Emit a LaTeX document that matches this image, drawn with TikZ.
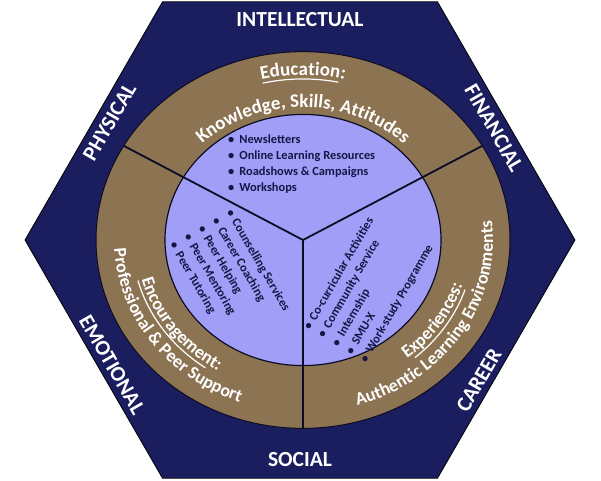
\documentclass[tikz,border=0pt]{standalone}
\usepackage{fontspec}
\setmainfont{Carlito}
\usetikzlibrary{decorations.text,calc}

\definecolor{hexnavy}{RGB}{27,30,94}
\definecolor{ringgold}{RGB}{140,115,82}
\definecolor{lavender}{RGB}{160,158,246}
\definecolor{inknavy}{RGB}{22,22,70}
\definecolor{edgedark}{RGB}{12,12,36}

\newcommand{\ringfont}{\fontsize{19}{22}\selectfont\bfseries}
\newcommand{\ringfontb}{\fontsize{18}{22}\selectfont\bfseries}
\newcommand{\labelfont}{\fontsize{21.5}{24}\selectfont\bfseries}
\newcommand{\listfont}{\fontsize{12.4}{16.3}\selectfont\bfseries}

\newlength\wword
% angular width (degrees) of a text set in font #1 on a circle of radius #3, stored in #4
\newcommand{\textangle}[4]{%
  \settowidth\wword{#1#2}%
  \pgfmathsetmacro#4{deg(\wword/#3)}}

\begin{document}
% widths of the underlined titles and of their full lines
\textangle{\ringfont}{Education:}{181}{\eduAll}
\textangle{\ringfont}{Education}{181}{\eduWord}
\textangle{\ringfontb}{Encouragement:}{167}{\encAll}
\textangle{\ringfontb}{Encouragement}{167}{\encWord}
\textangle{\ringfontb}{Experiences:}{167}{\expAll}
\textangle{\ringfontb}{Experiences}{167}{\expWord}
\begin{tikzpicture}[x=1pt,y=1pt,
  hexlabel/.style={text=white,font=\labelfont,inner sep=0pt},
  bulletlist/.style={text=inknavy,font=\listfont,inner sep=0pt,anchor=base west},
  divider/.style={draw=edgedark,line width=1.8pt},
  ringtext/.style={decorate,decoration={text along path,text align=center,text color=white,
      text={|\ringfont|#1}}},
  ringtextb/.style={decorate,decoration={text along path,text align=center,text color=white,
      text={|\ringfontb|#1}}},
  uline/.style={draw=white,line width=1.2pt}
]
\useasboundingbox (-300,-240) rectangle (301,240);
\fill[white] (-300,-240) rectangle (301,240);

% hexagon frame
\coordinate (h) at (0,0);
\filldraw[fill=hexnavy,draw=black,line width=0.8pt]
  (0:275) -- (60:275) -- (120:275) -- (180:275) -- (240:275) -- (300:275) -- cycle;

% wheel (slightly flattened)
\coordinate (c) at (3,0);
\def\sy{0.91}
\filldraw[fill=ringgold,draw=edgedark,line width=1pt] (c) ellipse[x radius=207,y radius=207*\sy];
\filldraw[fill=lavender,draw=edgedark,line width=1.2pt] (c) ellipse[x radius=138,y radius=138*\sy];
\coordinate (s1) at ($(c)+({207*cos(150)},{207*\sy*sin(150)})$);
\coordinate (s2) at ($(c)+({207*cos(30)},{207*\sy*sin(30)})$);
\coordinate (s3) at ($(c)+(0,-207*\sy)$);
\draw[divider] (c) -- (s1);
\draw[divider] (c) -- (s2);
\draw[divider] (c) -- (s3);

% outer labels, one along each side of the hexagon
\node[hexlabel] (intel) at (90:220) {INTELLECTUAL};
\node[hexlabel,rotate=60] (phys) at ($(150:224)+(60:7)$) {PHYSICAL};
\node[hexlabel,rotate=-60] (fin) at (30:224) {FINANCIAL};
\node[hexlabel,rotate=-60] (emo) at ($(210:225)+(300:14)$) {EMOTIONAL};
\node[hexlabel,rotate=60] (car) at ($(330:225)+(240:32)$) {CAREER};
\node[hexlabel] (soc) at (270:220) {SOCIAL};

% ring texts, top sector
\path[ringtext={Education:}] ($(c)+({181*cos(150)},{181*\sy*sin(150)})$)
  arc[start angle=150,end angle=30,x radius=181,y radius=181*\sy];
\path[ringtext={Knowledge{,} Skills{,} Attitudes}] ($(c)+({146*cos(150)},{146*\sy*sin(150)})$)
  arc[start angle=150,end angle=30,x radius=146,y radius=146*\sy];
% ring texts, lower left sector
\path[ringtextb={Encouragement:}] ($(c)+({167*cos(166)},{167*\sy*sin(166)})$)
  arc[start angle=166,end angle=266,x radius=167,y radius=167*\sy];
\path[ringtextb={Professional {\&} Peer Support}] ($(c)+({189*cos(166)},{189*\sy*sin(166)})$)
  arc[start angle=166,end angle=266,x radius=189,y radius=189*\sy];
% ring texts, lower right sector
\path[ringtextb={Experiences:}] ($(c)+({167*cos(277)},{167*\sy*sin(277)})$)
  arc[start angle=277,end angle=377,x radius=167,y radius=167*\sy];
\path[ringtextb={Authentic Learning Environments}] ($(c)+({190*cos(277)},{190*\sy*sin(277)})$)
  arc[start angle=277,end angle=377,x radius=190,y radius=190*\sy];

% underlines of the sector titles
\pgfmathsetmacro\ua{90+\eduAll/2}
\pgfmathsetmacro\ub{\ua-\eduWord}
\draw[uline] ($(c)+({177*cos(\ua)},{177*\sy*sin(\ua)})$)
  arc[start angle=\ua,end angle=\ub,x radius=177,y radius=177*\sy];
\pgfmathsetmacro\ua{216-\encAll/2}
\pgfmathsetmacro\ub{\ua+\encWord}
\draw[uline] ($(c)+({171*cos(\ua)},{171*\sy*sin(\ua)})$)
  arc[start angle=\ua,end angle=\ub,x radius=171,y radius=171*\sy];
\pgfmathsetmacro\ua{327-\expAll/2}
\pgfmathsetmacro\ub{\ua+\expWord}
\draw[uline] ($(c)+({171*cos(\ua)},{171*\sy*sin(\ua)})$)
  arc[start angle=\ua,end angle=\ub,x radius=171,y radius=171*\sy];

% bullet lists
\node[bulletlist] (edu) at (-72,97) {\begin{tabular}[t]{@{}l@{\hspace{5pt}}l@{}}
  \textbullet & Newsletters\\
  \textbullet & Online Learning Resources\\
  \textbullet & Roadshows \& Campaigns\\
  \textbullet & Workshops
\end{tabular}};
\node[bulletlist,rotate=-60] (enc) at (-74,28) {\begin{tabular}[t]{@{}l@{\hspace{5pt}}l@{}}
  \textbullet & Counselling Services\\
  \textbullet & Career Coaching\\
  \textbullet & Peer Helping\\
  \textbullet & Peer Mentoring\\
  \textbullet & Peer Tutoring
\end{tabular}};
\node[bulletlist,rotate=60] (exp) at (10,-91) {\begin{tabular}[t]{@{}l@{\hspace{5pt}}l@{}}
  \textbullet & Co-curricular Activities\\
  \textbullet & Community Service\\
  \textbullet & Internship\\
  \textbullet & SMU-X\\
  \textbullet & Work-study Programme
\end{tabular}};
\end{tikzpicture}
\end{document}
